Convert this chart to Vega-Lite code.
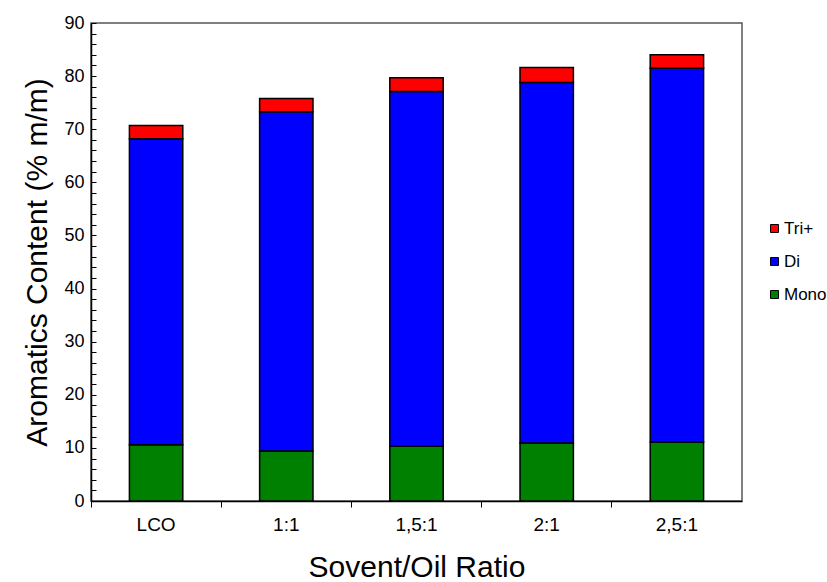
{
  "$schema": "https://vega.github.io/schema/vega-lite/v6.json",
  "autosize": {"type": "none"},
  "padding": {"left": 91, "top": 23, "right": 85, "bottom": 81},
  "width": 651,
  "height": 478,
  "background": "white",
  "data": {"values": [
    {"ratio": "LCO", "type": "Mono", "o": 1, "value": 10.6},
    {"ratio": "LCO", "type": "Di", "o": 2, "value": 57.6},
    {"ratio": "LCO", "type": "Tri+", "o": 3, "value": 2.5},
    {"ratio": "1:1", "type": "Mono", "o": 1, "value": 9.4},
    {"ratio": "1:1", "type": "Di", "o": 2, "value": 63.9},
    {"ratio": "1:1", "type": "Tri+", "o": 3, "value": 2.5},
    {"ratio": "1,5:1", "type": "Mono", "o": 1, "value": 10.3},
    {"ratio": "1,5:1", "type": "Di", "o": 2, "value": 66.8},
    {"ratio": "1,5:1", "type": "Tri+", "o": 3, "value": 2.6},
    {"ratio": "2:1", "type": "Mono", "o": 1, "value": 10.9},
    {"ratio": "2:1", "type": "Di", "o": 2, "value": 67.9},
    {"ratio": "2:1", "type": "Tri+", "o": 3, "value": 2.8},
    {"ratio": "2,5:1", "type": "Mono", "o": 1, "value": 11.1},
    {"ratio": "2,5:1", "type": "Di", "o": 2, "value": 70.4},
    {"ratio": "2,5:1", "type": "Tri+", "o": 3, "value": 2.5}
  ]},
  "mark": {"type": "bar", "width": {"band": 0.41}, "stroke": "black", "strokeWidth": 1.5},
  "encoding": {
    "x": {
      "field": "ratio", "type": "nominal", "sort": null,
      "scale": {"paddingInner": 0, "paddingOuter": 0},
      "axis": {
        "title": "Sovent/Oil Ratio", "titleFontSize": 30, "titleFont": "Liberation Sans", "titleFontWeight": "normal", "titleColor": "black", "titlePadding": 18,
        "labelAngle": 0, "labelFontSize": 19, "labelFont": "Liberation Sans", "labelColor": "black", "labelPadding": 8,
        "bandPosition": 0, "tickSize": 6, "tickColor": "black", "domainColor": "black", "domainWidth": 1.5
      }
    },
    "y": {
      "field": "value", "type": "quantitative", "stack": "zero",
      "scale": {"domain": [0, 90], "nice": false},
      "axis": {
        "title": "Aromatics Content (% m/m)", "titleFontSize": 30, "titleFont": "Liberation Sans", "titleFontWeight": "normal", "titleColor": "black", "titlePadding": 11,
        "values": [0,2,4,6,8,10,12,14,16,18,20,22,24,26,28,30,32,34,36,38,40,42,44,46,48,50,52,54,56,58,60,62,64,66,68,70,72,74,76,78,80,82,84,86,88,90],
        "labelExpr": "datum.value % 10 == 0 ? datum.label : ''",
        "labelFontSize": 18, "labelFont": "Liberation Sans", "labelColor": "black", "labelPadding": 12,
        "tickSize": -5, "tickColor": "black", "domainColor": "black", "domainWidth": 1.5, "grid": false
      }
    },
    "color": {
      "field": "type", "type": "nominal",
      "scale": {"domain": ["Tri+", "Di", "Mono"], "range": ["#FF0000", "#0000FF", "#008000"]},
      "legend": {
        "title": null, "orient": "none", "legendX": 675, "legendY": 197,
        "symbolType": "square", "symbolSize": 64, "symbolStrokeColor": "black", "symbolStrokeWidth": 1,
        "labelFontSize": 17, "labelFont": "Liberation Sans", "labelColor": "black", "labelOffset": 1,
        "rowPadding": 15
      }
    },
    "order": {"field": "o", "type": "quantitative"}
  },
  "config": {
    "view": {"stroke": "#555555", "strokeWidth": 1.5},
    "axis": {"grid": false}
  }
}
